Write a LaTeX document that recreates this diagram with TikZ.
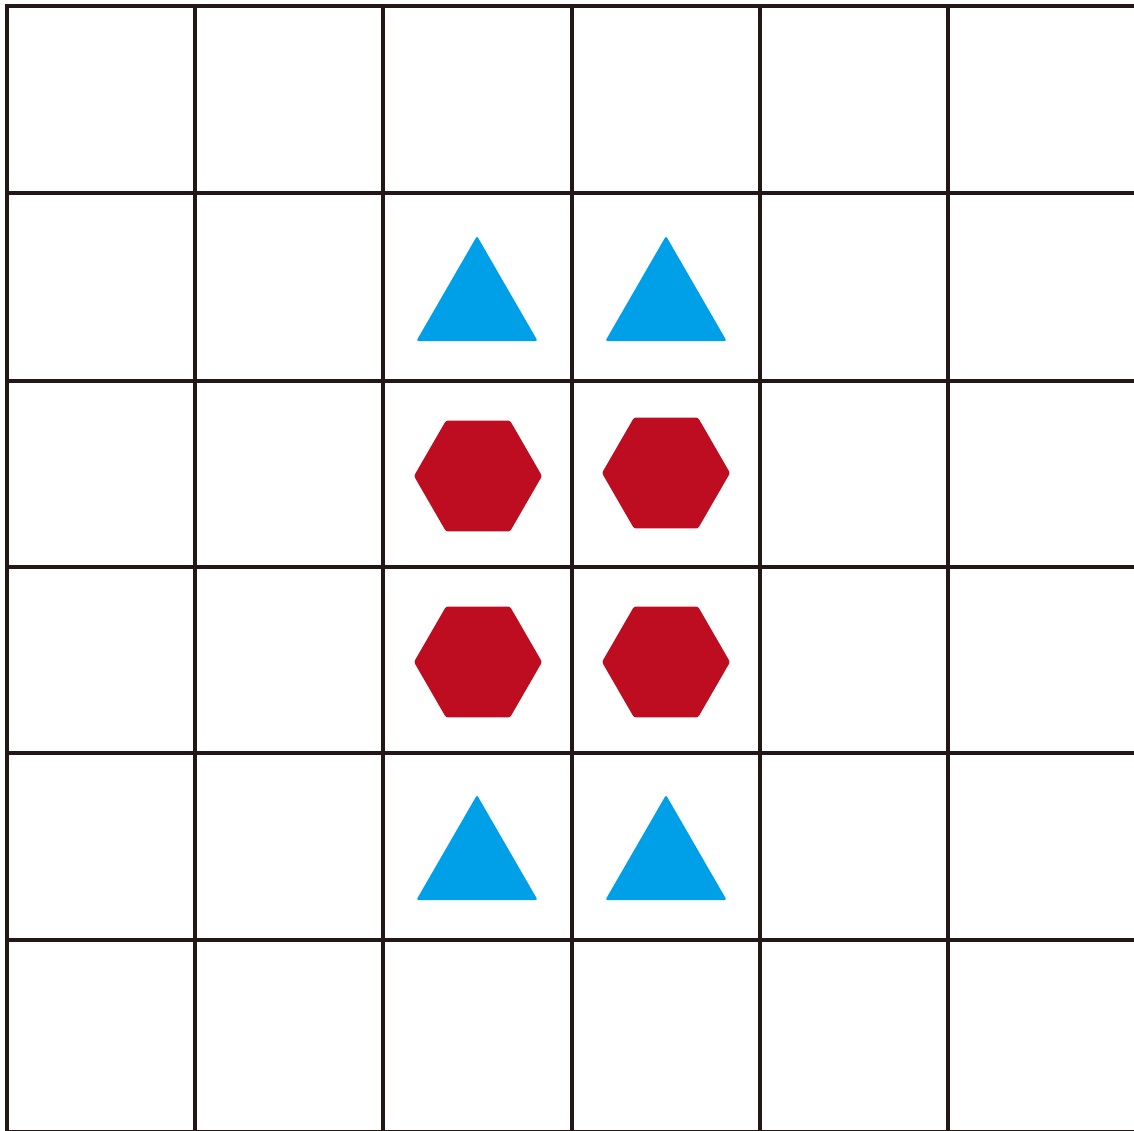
\documentclass[tikz,border=0pt]{standalone}
\usepackage{xcolor}
\usepackage{tikz}
\usetikzlibrary{shapes.geometric}

\definecolor{gridink}{HTML}{231815}
\definecolor{triblue}{HTML}{00A0E9}
\definecolor{hexred}{HTML}{BE0D20}

\begin{document}
\begin{tikzpicture}[
    x=0.01cm, y=-0.01cm,
    gridline/.style={draw=gridink, line width=1.2pt, line cap=rect},
    tri/.style={regular polygon, regular polygon sides=3, minimum size=1.40cm, inner sep=0pt, outer sep=0pt, fill=triblue, rounded corners=0.6pt},
    hex/.style={regular polygon, regular polygon sides=6, minimum size=1.28cm, inner sep=0pt, outer sep=0pt, fill=hexred, rounded corners=0.6pt}
]
\useasboundingbox (0,0) rectangle (1134,1130);

% Grid
\foreach \x in {7,195,383,572,760,948,1136}
  \draw [gridline] (\x,6) -- (\x,1130);
\foreach \y in {6,193,381,567,753,940,1132}
  \draw [gridline] (7,\y) -- (1134,\y);

% Triangles
\node (triTL) [tri] at (477,306) {};
\node (triTR) [tri] at (666,306) {};
\node (triBL) [tri] at (477,865) {};
\node (triBR) [tri] at (666,865) {};

% Hexagons
\node (hexA) [hex] at (478,476) {};
\node (hexB) [hex] at (666,473) {};
\node (hexC) [hex] at (478,662) {};
\node (hexD) [hex] at (666,662) {};

\end{tikzpicture}
\end{document}
